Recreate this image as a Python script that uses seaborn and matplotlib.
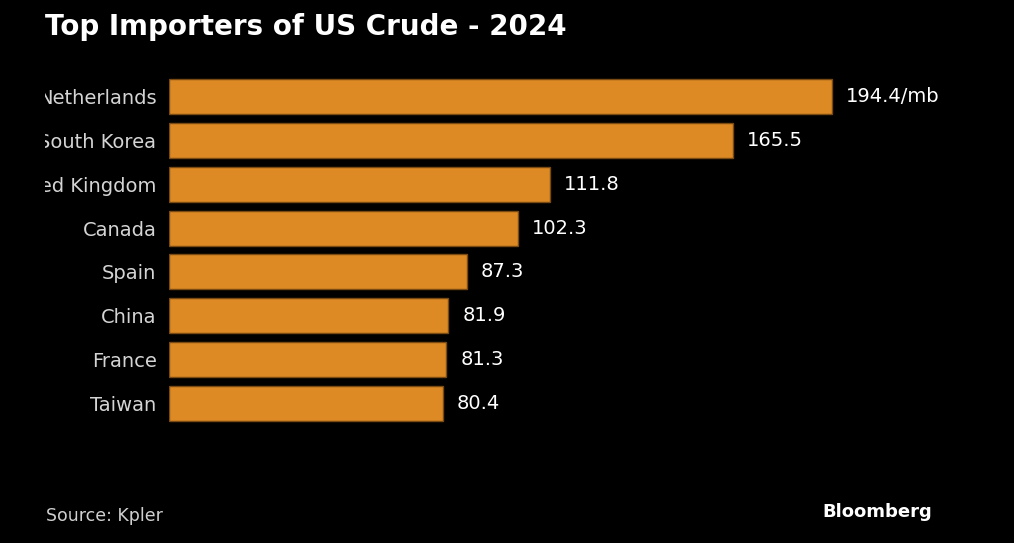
import matplotlib

matplotlib.use("Agg")
import matplotlib.pyplot as plt
import pandas as pd
import seaborn as sns
from matplotlib.transforms import Bbox, TransformedBbox

countries = ["Netherlands", "South Korea", "United Kingdom", "Canada", "Spain", "China", "France", "Taiwan"]
imports = [194.4, 165.5, 111.8, 102.3, 87.3, 81.9, 81.3, 80.4]
value_labels = ["194.4/mb", "165.5", "111.8", "102.3", "87.3", "81.9", "81.3", "80.4"]

BG = "#000000"
BAR = "#DD8A25"
EDGE = "#7A4A12"


def main():
    sns.set_theme(style="white")
    plt.rcParams["font.family"] = ["DejaVu Sans"]

    df = pd.DataFrame({"country": countries, "imports": imports})

    fig = plt.figure(figsize=(10.14, 5.43), dpi=100, facecolor=BG)
    ax = fig.add_axes([169 / 1014, 118 / 543, 764 / 1014, 350 / 543])
    ax.set_facecolor(BG)

    sns.barplot(data=df, x="imports", y="country", color=BAR, saturation=1,
                width=0.8, edgecolor=EDGE, linewidth=1, ax=ax)

    ax.set_xlim(0, 224)
    ax.set_ylim(7.5, -0.5)
    for s in ax.spines.values():
        s.set_visible(False)
    ax.set_xticks([])
    ax.set_xlabel("")
    ax.set_ylabel("")
    ax.tick_params(axis="y", length=0, pad=9, labelsize=14, labelcolor="#d4d4d4")

    # labels are cut off at the left edge in the original
    clip = TransformedBbox(Bbox([[45 / 1014, 0], [1, 1]]), fig.transFigure)
    for lab in ax.get_yticklabels():
        lab.set_clip_on(True)
        lab.set_clip_box(clip)

    for i, (v, txt) in enumerate(zip(imports, value_labels)):
        ax.annotate(txt, (v, i), xytext=(10, 0), textcoords="offset points",
                    va="center", ha="left", fontsize=14, color="white")

    fig.text(45 / 1014, 1 - 27 / 543, "Top Importers of US Crude - 2024", fontsize=20,
             fontweight="bold", color="white", va="center", ha="left")
    fig.text(46 / 1014, 1 - 516 / 543, "Source: Kpler", fontsize=12.5, color="#cfcfcf",
             va="center", ha="left")
    fig.text(932 / 1014, 1 - 512 / 543, "Bloomberg", fontsize=13, fontweight="bold",
             color="white", va="center", ha="right")

    fig.savefig("out.png", dpi=100, facecolor=BG)


if __name__ == "__main__":
    main()
